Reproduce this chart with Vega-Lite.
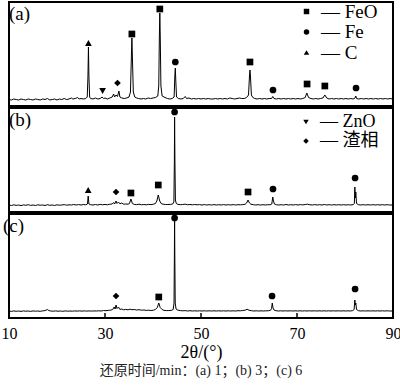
{
"$schema":"https://vega.github.io/schema/vega-lite/v6.json",
"padding":{"left":0,"right":0,"top":1,"bottom":3},
"config":{"view":{"stroke":"black","strokeWidth":2},"font":"Liberation Serif"},
"title":{"text":"还原时间/min：(a) 1；(b) 3；(c) 6","orient":"bottom","anchor":"middle","font":"Liberation Serif, Noto Sans CJK SC","fontSize":14,"fontWeight":"normal","offset":2,"color":"#222"},
"spacing":0,
"resolve":{"scale":{"shape":"independent"},"legend":{"shape":"independent"}},
"datasets":{
"ticks":[{"t":30},{"t":50},{"t":70}],
"a":[{"t":10,"i":6.5},{"t":10.5,"i":6},{"t":11,"i":7},{"t":11.5,"i":6.5},{"t":12,"i":6},{"t":12.5,"i":7},{"t":13,"i":6.5},{"t":13.5,"i":6},{"t":14,"i":7},{"t":14.5,"i":6.5},{"t":15,"i":6},{"t":15.5,"i":7},{"t":16,"i":6.5},{"t":16.5,"i":6},{"t":17,"i":7},{"t":17.5,"i":6.5},{"t":18,"i":7.5},{"t":18.5,"i":6},{"t":19,"i":6.5},{"t":19.5,"i":7},{"t":20,"i":6},{"t":20.5,"i":7},{"t":21,"i":6.5},{"t":21.5,"i":7.5},{"t":22,"i":6.5},{"t":22.5,"i":7},{"t":23,"i":8},{"t":23.3,"i":7},{"t":23.8,"i":7.5},{"t":24.3,"i":8.5},{"t":24.6,"i":7},{"t":25,"i":7.5},{"t":25.5,"i":7},{"t":26,"i":7.5},{"t":26.3,"i":9},{"t":26.45,"i":30},{"t":26.55,"i":59},{"t":26.65,"i":30},{"t":26.8,"i":9},{"t":27,"i":7.5},{"t":27.5,"i":7},{"t":28,"i":8},{"t":28.5,"i":7},{"t":29,"i":7.5},{"t":29.4,"i":9},{"t":29.7,"i":7.5},{"t":30,"i":8},{"t":30.5,"i":7},{"t":31,"i":8},{"t":31.5,"i":9},{"t":31.8,"i":12},{"t":32,"i":9},{"t":32.3,"i":11},{"t":32.6,"i":9.5},{"t":32.9,"i":15},{"t":33.1,"i":9},{"t":33.5,"i":8},{"t":34,"i":7.5},{"t":34.5,"i":8},{"t":35,"i":9},{"t":35.3,"i":14},{"t":35.5,"i":50},{"t":35.6,"i":68},{"t":35.7,"i":50},{"t":35.9,"i":14},{"t":36.2,"i":9},{"t":36.6,"i":8},{"t":37,"i":7.5},{"t":37.5,"i":7},{"t":38,"i":7.5},{"t":38.5,"i":7},{"t":39,"i":8},{"t":39.5,"i":7.5},{"t":40,"i":8},{"t":40.5,"i":8.5},{"t":41,"i":10},{"t":41.2,"i":20},{"t":41.33,"i":70},{"t":41.42,"i":93},{"t":41.51,"i":70},{"t":41.65,"i":20},{"t":41.9,"i":10},{"t":42.5,"i":8.5},{"t":43,"i":7.5},{"t":43.5,"i":7},{"t":44,"i":7.5},{"t":44.4,"i":9},{"t":44.55,"i":30},{"t":44.65,"i":38},{"t":44.75,"i":25},{"t":44.9,"i":9},{"t":45.3,"i":7.5},{"t":45.8,"i":7},{"t":46.3,"i":7.5},{"t":46.7,"i":9.5},{"t":47,"i":7.5},{"t":47.5,"i":8},{"t":48,"i":7},{"t":48.5,"i":7.5},{"t":49,"i":7},{"t":49.5,"i":7.5},{"t":50,"i":7},{"t":50.5,"i":7.5},{"t":51,"i":7},{"t":51.5,"i":7.5},{"t":52,"i":7},{"t":52.5,"i":7},{"t":53,"i":7.5},{"t":53.5,"i":7},{"t":54,"i":7.5},{"t":54.5,"i":7},{"t":55,"i":7.5},{"t":55.5,"i":7},{"t":56,"i":8},{"t":56.5,"i":7.5},{"t":57,"i":7},{"t":57.5,"i":7.5},{"t":58,"i":8},{"t":58.5,"i":7.5},{"t":59,"i":7.5},{"t":59.5,"i":8.5},{"t":59.9,"i":11},{"t":60.1,"i":30},{"t":60.2,"i":36},{"t":60.3,"i":30},{"t":60.5,"i":11},{"t":60.8,"i":8.5},{"t":61.2,"i":7.5},{"t":61.7,"i":7},{"t":62.2,"i":7.5},{"t":62.7,"i":7},{"t":63.2,"i":7.5},{"t":63.7,"i":7},{"t":64.2,"i":7.5},{"t":64.7,"i":7.5},{"t":64.95,"i":9.5},{"t":65.2,"i":7.5},{"t":65.7,"i":7},{"t":66.2,"i":7.5},{"t":66.7,"i":7},{"t":67.2,"i":7.5},{"t":67.7,"i":7},{"t":68.2,"i":7.5},{"t":68.7,"i":7},{"t":69.2,"i":7.5},{"t":69.7,"i":7},{"t":70.2,"i":7.5},{"t":70.7,"i":7},{"t":71.2,"i":7.5},{"t":71.7,"i":8.5},{"t":72.05,"i":13},{"t":72.4,"i":8.5},{"t":72.9,"i":7.5},{"t":73.4,"i":7},{"t":73.9,"i":7.5},{"t":74.4,"i":7},{"t":74.9,"i":7.5},{"t":75.4,"i":8},{"t":75.8,"i":11},{"t":76.2,"i":8},{"t":76.7,"i":7},{"t":77.2,"i":7.5},{"t":77.7,"i":7},{"t":78.2,"i":7.5},{"t":78.7,"i":7},{"t":79.2,"i":7.5},{"t":79.7,"i":7},{"t":80.2,"i":7.5},{"t":80.7,"i":7},{"t":81.2,"i":7.5},{"t":81.7,"i":7},{"t":82.1,"i":8},{"t":82.25,"i":10},{"t":82.4,"i":7.5},{"t":82.9,"i":7},{"t":83.4,"i":7.5},{"t":83.9,"i":7},{"t":84.4,"i":7.5},{"t":84.9,"i":7},{"t":85.4,"i":7.5},{"t":85.9,"i":7},{"t":86.4,"i":7.5},{"t":86.9,"i":7},{"t":87.4,"i":7.5},{"t":87.9,"i":7},{"t":88.4,"i":7.5},{"t":88.9,"i":7},{"t":89.4,"i":7.5},{"t":90,"i":7}],
"b":[{"t":10,"i":7},{"t":10.5,"i":6.5},{"t":11,"i":7.2},{"t":11.5,"i":6.6},{"t":12,"i":7},{"t":12.5,"i":6.4},{"t":13,"i":7.1},{"t":13.5,"i":6.7},{"t":14,"i":7.3},{"t":14.5,"i":6.6},{"t":15,"i":7},{"t":15.5,"i":6.5},{"t":16,"i":7.2},{"t":16.5,"i":6.8},{"t":17,"i":7},{"t":17.5,"i":6.5},{"t":18,"i":7.3},{"t":18.5,"i":6.7},{"t":19,"i":7},{"t":19.5,"i":6.5},{"t":20,"i":7.2},{"t":20.5,"i":6.8},{"t":21,"i":7},{"t":21.5,"i":7.4},{"t":22,"i":6.8},{"t":22.5,"i":7.2},{"t":23,"i":7},{"t":23.5,"i":7.5},{"t":24,"i":7},{"t":24.5,"i":7.4},{"t":25,"i":7},{"t":25.5,"i":7.5},{"t":26,"i":7.2},{"t":26.35,"i":8},{"t":26.5,"i":16},{"t":26.65,"i":8},{"t":27,"i":7.3},{"t":27.5,"i":7},{"t":28,"i":7.5},{"t":28.5,"i":7},{"t":29,"i":7.6},{"t":29.5,"i":7.2},{"t":30,"i":7.6},{"t":30.5,"i":7.2},{"t":31,"i":7.8},{"t":31.5,"i":8},{"t":31.8,"i":9.5},{"t":32,"i":8},{"t":32.3,"i":11},{"t":32.5,"i":8.5},{"t":32.8,"i":10},{"t":33.1,"i":8.2},{"t":33.5,"i":9},{"t":33.9,"i":7.8},{"t":34.3,"i":8},{"t":34.8,"i":7.8},{"t":35.1,"i":8.5},{"t":35.4,"i":13},{"t":35.7,"i":8.5},{"t":36.1,"i":7.6},{"t":36.6,"i":7.4},{"t":37.1,"i":7.8},{"t":37.6,"i":7.2},{"t":38.1,"i":7.5},{"t":38.6,"i":7.2},{"t":39.1,"i":7.6},{"t":39.6,"i":7.4},{"t":40.1,"i":7.8},{"t":40.5,"i":8.5},{"t":40.8,"i":11},{"t":41.1,"i":17},{"t":41.4,"i":11},{"t":41.7,"i":8.5},{"t":42.1,"i":7.8},{"t":42.6,"i":7.5},{"t":43.1,"i":7.5},{"t":43.6,"i":7.6},{"t":44.1,"i":8},{"t":44.35,"i":10},{"t":44.45,"i":50},{"t":44.5,"i":95},{"t":44.57,"i":50},{"t":44.67,"i":12},{"t":44.85,"i":8.5},{"t":45.2,"i":7.6},{"t":45.7,"i":7.3},{"t":46.2,"i":7.5},{"t":46.7,"i":7.8},{"t":47.2,"i":7.3},{"t":47.7,"i":7.5},{"t":48.2,"i":7.2},{"t":48.7,"i":7.5},{"t":49.2,"i":7.2},{"t":49.7,"i":7.4},{"t":50.2,"i":7},{"t":50.7,"i":7.4},{"t":51.2,"i":7},{"t":51.7,"i":7.3},{"t":52.2,"i":7},{"t":52.7,"i":7.4},{"t":53.2,"i":7},{"t":53.7,"i":7.3},{"t":54.2,"i":7},{"t":54.7,"i":7.4},{"t":55.2,"i":7},{"t":55.7,"i":7.3},{"t":56.2,"i":7},{"t":56.7,"i":7.4},{"t":57.2,"i":7},{"t":57.7,"i":7.3},{"t":58.2,"i":7.2},{"t":58.7,"i":7.4},{"t":59.2,"i":7.8},{"t":59.5,"i":9},{"t":59.8,"i":12},{"t":60.1,"i":9},{"t":60.4,"i":7.8},{"t":60.9,"i":7.3},{"t":61.4,"i":7},{"t":61.9,"i":7.3},{"t":62.4,"i":7},{"t":62.9,"i":7.3},{"t":63.4,"i":7},{"t":63.9,"i":7.3},{"t":64.4,"i":7.2},{"t":64.75,"i":8},{"t":64.95,"i":15},{"t":65.1,"i":11},{"t":65.3,"i":8},{"t":65.7,"i":7.3},{"t":66.2,"i":7},{"t":66.7,"i":7.3},{"t":67.2,"i":7},{"t":67.7,"i":7.5},{"t":68.2,"i":7},{"t":68.7,"i":7.3},{"t":69.2,"i":7},{"t":69.7,"i":7.4},{"t":70.2,"i":7},{"t":70.7,"i":7.4},{"t":71.2,"i":7.1},{"t":71.7,"i":7.5},{"t":72.2,"i":7.8},{"t":72.7,"i":7.2},{"t":73.2,"i":7},{"t":73.7,"i":7.4},{"t":74.2,"i":7},{"t":74.7,"i":7.3},{"t":75.2,"i":7},{"t":75.7,"i":7.5},{"t":76.2,"i":7},{"t":76.7,"i":7.3},{"t":77.2,"i":7},{"t":77.7,"i":7.3},{"t":78.2,"i":7},{"t":78.7,"i":7.3},{"t":79.2,"i":7},{"t":79.7,"i":7.3},{"t":80.2,"i":7},{"t":80.7,"i":7.3},{"t":81.2,"i":7},{"t":81.7,"i":7.4},{"t":81.95,"i":8.5},{"t":82.05,"i":25},{"t":82.15,"i":14},{"t":82.25,"i":20},{"t":82.4,"i":8.5},{"t":82.8,"i":7.3},{"t":83.3,"i":7},{"t":83.8,"i":7.3},{"t":84.3,"i":7},{"t":84.8,"i":7.3},{"t":85.3,"i":7},{"t":85.8,"i":7.3},{"t":86.3,"i":7},{"t":86.8,"i":7.3},{"t":87.3,"i":7},{"t":87.8,"i":7.3},{"t":88.3,"i":7},{"t":88.8,"i":7.3},{"t":89.3,"i":7},{"t":90,"i":7}],
"c":[{"t":10,"i":7},{"t":10.5,"i":6.6},{"t":11,"i":7.1},{"t":11.5,"i":6.7},{"t":12,"i":7},{"t":12.5,"i":6.6},{"t":13,"i":7.1},{"t":13.5,"i":6.8},{"t":14,"i":7},{"t":14.5,"i":6.6},{"t":15,"i":7.1},{"t":15.5,"i":6.8},{"t":16,"i":7},{"t":16.5,"i":6.7},{"t":17,"i":7.1},{"t":17.5,"i":7.4},{"t":18,"i":8.5},{"t":18.3,"i":7.5},{"t":18.7,"i":7},{"t":19.2,"i":6.8},{"t":19.7,"i":7.1},{"t":20.2,"i":6.8},{"t":20.7,"i":7},{"t":21.2,"i":6.7},{"t":21.7,"i":7.1},{"t":22.2,"i":6.8},{"t":22.7,"i":7},{"t":23.2,"i":6.8},{"t":23.7,"i":7.1},{"t":24.2,"i":6.9},{"t":24.7,"i":7.1},{"t":25.2,"i":6.9},{"t":25.7,"i":7.1},{"t":26.2,"i":6.9},{"t":26.7,"i":7.1},{"t":27.2,"i":6.9},{"t":27.7,"i":7.1},{"t":28.2,"i":7},{"t":28.7,"i":7.2},{"t":29.2,"i":7},{"t":29.7,"i":7.5},{"t":30.2,"i":7.3},{"t":30.7,"i":7.6},{"t":31.2,"i":7.9},{"t":31.6,"i":8.5},{"t":31.9,"i":11},{"t":32.1,"i":9},{"t":32.3,"i":13},{"t":32.5,"i":9.5},{"t":32.8,"i":11},{"t":33.1,"i":8.6},{"t":33.5,"i":9},{"t":33.9,"i":8.2},{"t":34.3,"i":8.6},{"t":34.8,"i":8.2},{"t":35.2,"i":8.8},{"t":35.6,"i":8.3},{"t":36.1,"i":8.5},{"t":36.6,"i":8},{"t":37.1,"i":8.3},{"t":37.6,"i":7.8},{"t":38.1,"i":8},{"t":38.6,"i":7.6},{"t":39.1,"i":7.8},{"t":39.6,"i":7.5},{"t":40.1,"i":7.8},{"t":40.5,"i":8.5},{"t":40.9,"i":10.5},{"t":41.2,"i":15},{"t":41.5,"i":10.5},{"t":41.9,"i":8.5},{"t":42.3,"i":7.6},{"t":42.8,"i":7.4},{"t":43.3,"i":7.5},{"t":43.8,"i":7.6},{"t":44.2,"i":8.5},{"t":44.38,"i":15},{"t":44.45,"i":60},{"t":44.5,"i":98},{"t":44.55,"i":60},{"t":44.63,"i":15},{"t":44.8,"i":9},{"t":45.2,"i":7.8},{"t":45.7,"i":7.4},{"t":46.2,"i":7.2},{"t":46.7,"i":7.4},{"t":47.2,"i":7},{"t":47.7,"i":7.3},{"t":48.2,"i":7},{"t":48.7,"i":7.2},{"t":49.2,"i":7},{"t":49.7,"i":7.2},{"t":50.2,"i":7},{"t":50.7,"i":7.2},{"t":51.2,"i":7},{"t":51.7,"i":7.2},{"t":52.2,"i":7},{"t":52.7,"i":7.2},{"t":53.2,"i":7},{"t":53.7,"i":7.2},{"t":54.2,"i":7},{"t":54.7,"i":7.2},{"t":55.2,"i":7},{"t":55.7,"i":7.2},{"t":56.2,"i":7},{"t":56.7,"i":7.2},{"t":57.2,"i":7},{"t":57.7,"i":7.3},{"t":58.2,"i":7.2},{"t":58.7,"i":7.5},{"t":59.2,"i":7.8},{"t":59.6,"i":8.8},{"t":60,"i":7.8},{"t":60.5,"i":7.3},{"t":61,"i":7},{"t":61.5,"i":7.2},{"t":62,"i":7},{"t":62.5,"i":7.2},{"t":63,"i":7},{"t":63.5,"i":7.2},{"t":64,"i":7.2},{"t":64.5,"i":7.8},{"t":64.7,"i":9.5},{"t":64.85,"i":15},{"t":65,"i":10},{"t":65.2,"i":8},{"t":65.6,"i":7.3},{"t":66.1,"i":7},{"t":66.6,"i":7.2},{"t":67.1,"i":7},{"t":67.6,"i":7.2},{"t":68.1,"i":7},{"t":68.6,"i":7.2},{"t":69.1,"i":7},{"t":69.6,"i":7.2},{"t":70.1,"i":7},{"t":70.6,"i":7.2},{"t":71.1,"i":7},{"t":71.6,"i":7.2},{"t":72.1,"i":7},{"t":72.6,"i":7.2},{"t":73.1,"i":7},{"t":73.6,"i":7.2},{"t":74.1,"i":7},{"t":74.6,"i":7.2},{"t":75.1,"i":7},{"t":75.6,"i":7.2},{"t":76.1,"i":7},{"t":76.6,"i":7.2},{"t":77.1,"i":7},{"t":77.6,"i":7.2},{"t":78.1,"i":7},{"t":78.6,"i":7.2},{"t":79.1,"i":7},{"t":79.6,"i":7.2},{"t":80.1,"i":7},{"t":80.6,"i":7.2},{"t":81.1,"i":7},{"t":81.6,"i":7.4},{"t":81.9,"i":8.5},{"t":82.05,"i":18},{"t":82.15,"i":13},{"t":82.25,"i":15},{"t":82.4,"i":8.5},{"t":82.8,"i":7.3},{"t":83.3,"i":7},{"t":83.8,"i":7.2},{"t":84.3,"i":7},{"t":84.8,"i":7.2},{"t":85.3,"i":7},{"t":85.8,"i":7.2},{"t":86.3,"i":7},{"t":86.8,"i":7.2},{"t":87.3,"i":7},{"t":87.8,"i":7.2},{"t":88.3,"i":7},{"t":88.8,"i":7.2},{"t":89.3,"i":7},{"t":90,"i":7}],
"ma":[{"t":26.55,"i":63,"phase":"C"},{"t":29.5,"i":15,"phase":"ZnO"},{"t":32.6,"i":23,"phase":"渣相"},{"t":35.6,"i":72,"phase":"FeO"},{"t":41.42,"i":97,"phase":"FeO"},{"t":44.65,"i":44,"phase":"Fe"},{"t":60.2,"i":44,"phase":"FeO"},{"t":65.0,"i":16,"phase":"Fe"},{"t":72.1,"i":22,"phase":"FeO"},{"t":75.8,"i":20,"phase":"FeO"},{"t":82.3,"i":18,"phase":"Fe"}],
"mb":[{"t":26.5,"i":22,"phase":"C"},{"t":32.3,"i":20,"phase":"渣相"},{"t":35.4,"i":19,"phase":"FeO"},{"t":41.1,"i":27,"phase":"FeO"},{"t":44.5,"i":100,"phase":"Fe"},{"t":59.8,"i":20,"phase":"FeO"},{"t":65.0,"i":23,"phase":"Fe"},{"t":82.1,"i":34,"phase":"Fe"}],
"mc":[{"t":32.3,"i":22,"phase":"渣相"},{"t":41.2,"i":21,"phase":"FeO"},{"t":44.5,"i":100,"phase":"Fe"},{"t":64.8,"i":22,"phase":"Fe"},{"t":82.1,"i":29,"phase":"Fe"}]
},
"vconcat":[
{"width":384,"height":104,
"title":{"text":"(a)","anchor":"start","offset":-22,"dx":2,"fontSize":19,"fontWeight":"normal","font":"Liberation Serif","color":"black"},
"layer":[
{"data":{"name":"a"},"mark":{"type":"line","color":"black","strokeWidth":1},
"encoding":{"x":{"field":"t","type":"quantitative","scale":{"domain":[10,90],"nice":false},"axis":null},"y":{"field":"i","type":"quantitative","scale":{"domain":[0,104],"nice":false},"axis":null}}},
{"data":{"name":"ma"},"mark":{"type":"point","filled":true,"color":"black","size":45,"opacity":1},
"encoding":{"x":{"field":"t","type":"quantitative"},"y":{"field":"i","type":"quantitative"},
"shape":{"field":"phase","type":"nominal","scale":{"domain":["FeO","Fe","C","ZnO","渣相"],"range":["square","circle","triangle-up","triangle-down","diamond"]},
"legend":{"orient":"none","legendX":288,"legendY":0,"values":["FeO","Fe","C"],"title":null,"labelExpr":"'— ' + datum.label","labelFont":"Liberation Serif, Noto Sans CJK SC","labelFontSize":19,"labelColor":"black","symbolSize":30,"symbolFillColor":"black","symbolStrokeWidth":0,"labelOffset":5,"rowPadding":0.5,"padding":0}}}}
]},
{"width":384,"height":104,
"title":{"text":"(b)","anchor":"start","offset":-22,"dx":2,"fontSize":19,"fontWeight":"normal","font":"Liberation Serif","color":"black"},
"layer":[
{"data":{"name":"b"},"mark":{"type":"line","color":"black","strokeWidth":1},
"encoding":{"x":{"field":"t","type":"quantitative","scale":{"domain":[10,90],"nice":false},"axis":null},"y":{"field":"i","type":"quantitative","scale":{"domain":[0,104],"nice":false},"axis":null}}},
{"data":{"name":"mb"},"mark":{"type":"point","filled":true,"color":"black","size":45,"opacity":1},
"encoding":{"x":{"field":"t","type":"quantitative"},"y":{"field":"i","type":"quantitative"},
"shape":{"field":"phase","type":"nominal","scale":{"domain":["FeO","Fe","C","ZnO","渣相"],"range":["square","circle","triangle-up","triangle-down","diamond"]},
"legend":{"orient":"none","legendX":288,"legendY":5,"values":["ZnO","渣相"],"title":null,"labelExpr":"'— ' + datum.label","labelFont":"Liberation Serif, Noto Sans CJK SC","labelFontSize":18,"labelColor":"black","symbolSize":30,"symbolFillColor":"black","symbolStrokeWidth":0,"labelOffset":5,"rowPadding":1,"padding":0}}}}
]},
{"width":384,"height":104,
"title":{"text":"(c)","anchor":"start","offset":-22,"dx":2,"fontSize":19,"fontWeight":"normal","font":"Liberation Serif","color":"black"},
"layer":[
{"data":{"name":"c"},"mark":{"type":"line","color":"black","strokeWidth":1},
"encoding":{"x":{"field":"t","type":"quantitative","scale":{"domain":[10,90],"nice":false},
"axis":{"values":[10,30,50,70,90],"title":"2θ/(°)","grid":false,"domain":false,"ticks":false,"labelPadding":7,"labelFlush":false,"labelFont":"Liberation Serif","labelFontSize":16,"labelColor":"black","titleFont":"Liberation Serif","titleFontSize":18,"titleFontWeight":"normal","titleColor":"black","titlePadding":2}},
"y":{"field":"i","type":"quantitative","scale":{"domain":[0,104],"nice":false},"axis":null}}},
{"data":{"name":"ticks"},"mark":{"type":"rule","color":"black","strokeWidth":1.5},
"encoding":{"x":{"field":"t","type":"quantitative"},"y":{"datum":0},"y2":{"datum":5}}},
{"data":{"name":"mc"},"mark":{"type":"point","filled":true,"color":"black","size":45,"opacity":1},
"encoding":{"x":{"field":"t","type":"quantitative"},"y":{"field":"i","type":"quantitative"},
"shape":{"field":"phase","type":"nominal","scale":{"domain":["FeO","Fe","C","ZnO","渣相"],"range":["square","circle","triangle-up","triangle-down","diamond"]},"legend":null}}}
]}
]
}
